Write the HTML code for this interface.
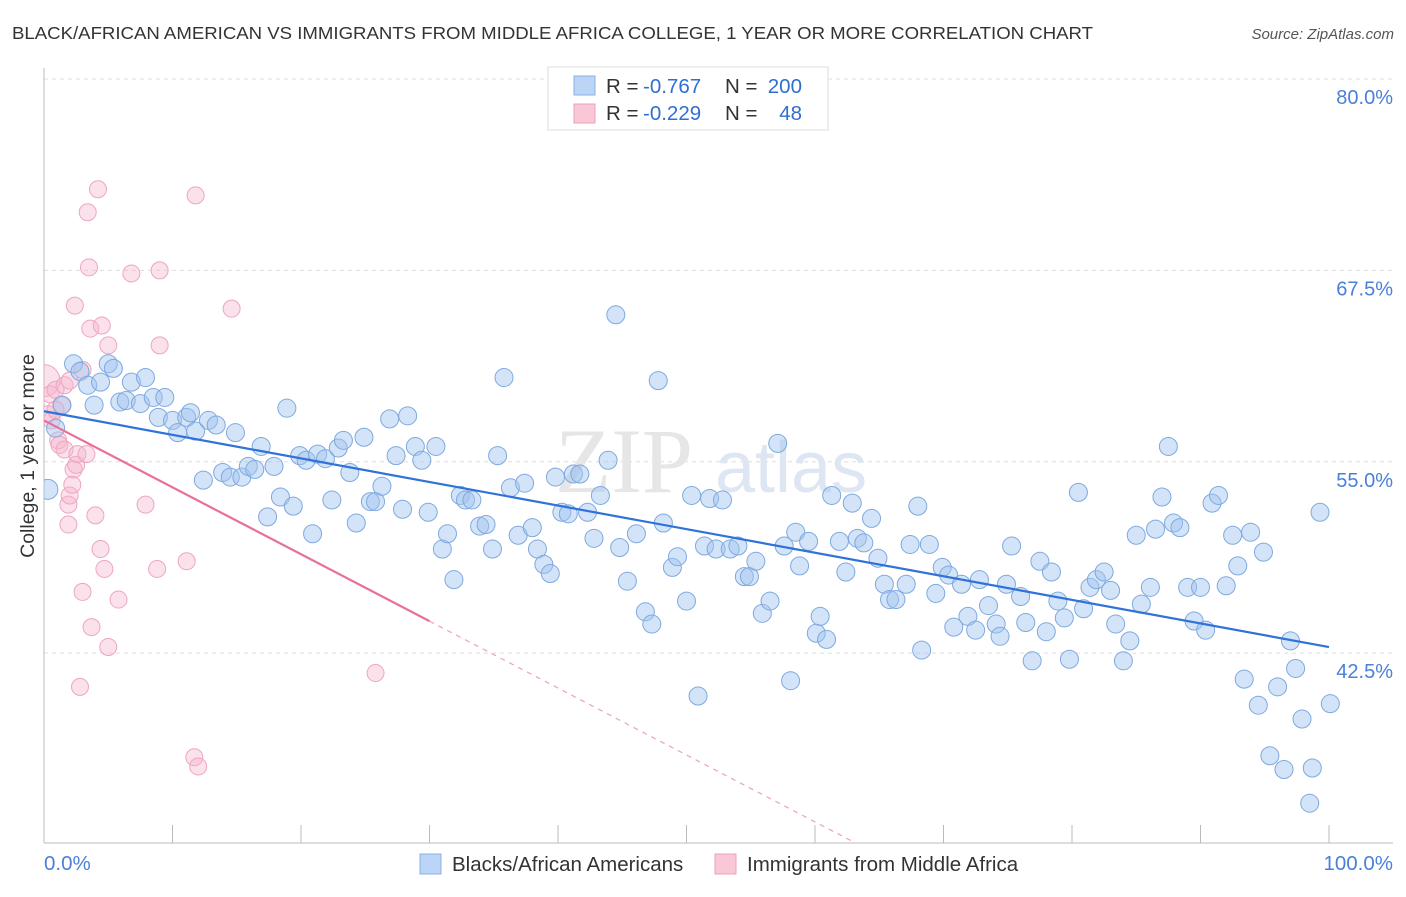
<!DOCTYPE html>
<html><head><meta charset="utf-8"><style>
body{margin:0;background:#fff;width:1406px;height:892px;overflow:hidden;font-family:"Liberation Sans",sans-serif}
</style></head><body>
<svg id="chart" width="1406" height="892" xmlns="http://www.w3.org/2000/svg" style="font-family:'Liberation Sans',sans-serif">
<defs><clipPath id="plotclip"><rect x="44" y="60" width="1360" height="783"/></clipPath></defs>
<text x="12" y="39" font-size="17.5" fill="#333" textLength="1081" lengthAdjust="spacingAndGlyphs">BLACK/AFRICAN AMERICAN VS IMMIGRANTS FROM MIDDLE AFRICA COLLEGE, 1 YEAR OR MORE CORRELATION CHART</text>
<text x="1394" y="39" font-size="15" fill="#555" font-style="italic" text-anchor="end">Source: ZipAtlas.com</text>
<g id="grid"></g>
<text x="555" y="492" font-size="92" fill="#e6e6e6" font-family="Liberation Serif,serif">ZIP</text>
<text x="715" y="492" font-size="72" fill="#dde6f2">atlas</text>
<g id="pts" clip-path="url(#plotclip)"></g>
<g id="lines"></g>
<g>
<rect x="548" y="67" width="280" height="63" fill="#fff" stroke="#ddd"/>
<rect x="574" y="76" width="21" height="19" fill="#bcd4f5" stroke="#8ab2e6"/>
<rect x="574" y="104" width="21" height="19" fill="#f9c7d6" stroke="#eca0bb"/>
<text x="606" y="93" font-size="20.5" fill="#333">R =</text>
<text x="643" y="93" font-size="20.5" fill="#2f6fd0">-0.767</text>
<text x="725" y="93" font-size="20.5" fill="#333">N =</text>
<text x="802" y="93" font-size="20.5" fill="#2f6fd0" text-anchor="end">200</text>
<text x="606" y="120" font-size="20.5" fill="#333">R =</text>
<text x="643" y="120" font-size="20.5" fill="#2f6fd0">-0.229</text>
<text x="725" y="120" font-size="20.5" fill="#333">N =</text>
<text x="802" y="120" font-size="20.5" fill="#2f6fd0" text-anchor="end">48</text>
</g>
<text transform="translate(34,456) rotate(-90)" font-size="19.5" fill="#333" text-anchor="middle">College, 1 year or more</text>
<text x="44" y="870" font-size="20.5" fill="#4a80d8">0.0%</text>
<text x="1393" y="870" font-size="20.5" fill="#4a80d8" text-anchor="end">100.0%</text>
<g>
<rect x="420" y="854" width="21" height="20" fill="#bcd4f5" stroke="#8ab2e6"/>
<text x="452" y="871" font-size="20.5" fill="#333">Blacks/African Americans</text>
<rect x="715" y="854" width="21" height="20" fill="#f9c7d6" stroke="#eca0bb"/>
<text x="747" y="871" font-size="20.5" fill="#333">Immigrants from Middle Africa</text>
</g>
</svg>
<script>
const yTicks=[80,67.5,55,42.5];
const blueX=[0.3,0.9,1.4,2.3,2.8,3.4,3.9,4.4,5.0,5.4,5.9,6.4,6.8,7.5,7.9,8.5,8.9,9.4,10.0,10.4,11.1,11.4,11.8,12.4,12.8,13.4,13.9,14.5,14.9,15.4,15.9,16.4,16.9,17.4,17.9,18.4,18.9,19.4,19.9,20.4,20.9,21.3,21.9,22.4,22.9,23.3,23.8,24.3,24.9,25.4,25.8,26.3,26.9,27.4,27.9,28.3,28.9,29.4,29.9,30.5,31.0,31.4,31.9,32.4,32.8,33.3,33.9,34.4,34.9,35.3,35.8,36.3,36.9,37.4,38.0,38.4,38.9,39.4,39.8,40.3,40.8,41.2,41.7,42.3,42.8,43.3,43.9,44.5,44.8,45.4,46.1,46.8,47.3,47.8,48.2,48.9,49.3,50.0,50.4,50.9,51.4,51.8,52.3,52.8,53.4,54.0,54.5,54.9,55.4,55.9,56.5,57.1,57.6,58.1,58.5,58.8,59.5,60.1,60.4,60.9,61.3,61.9,62.4,62.9,63.3,63.8,64.4,64.9,65.4,65.8,66.3,67.1,67.4,68.0,68.3,68.9,69.4,69.9,70.4,70.8,71.4,71.9,72.5,72.8,73.5,74.1,74.4,74.9,75.3,76.0,76.4,76.9,77.5,78.0,78.4,78.9,79.4,79.8,80.5,80.9,81.4,81.9,82.5,83.0,83.4,84.0,84.5,85.0,85.4,86.1,86.5,87.0,87.5,87.9,88.4,89.0,89.5,90.0,90.4,90.9,91.4,92.0,92.5,92.9,93.4,93.9,94.5,94.9,95.4,96.0,96.5,97.0,97.4,97.9,98.7,98.5,99.3,100.1];
const blueY=[53.2,57.2,58.7,61.4,60.9,60.0,58.7,60.2,61.4,61.1,58.9,59.0,60.2,58.8,60.5,59.2,57.9,59.2,57.7,56.9,57.9,58.2,57.0,53.8,57.7,57.4,54.3,54.0,56.9,54.0,54.7,54.5,56.0,51.4,54.7,52.7,58.5,52.1,55.4,55.1,50.3,55.5,55.2,52.5,55.9,56.4,54.3,51.0,56.6,52.4,52.4,53.4,57.8,55.4,51.9,58.0,56.0,55.1,51.7,56.0,49.3,50.3,47.3,52.8,52.5,52.5,50.8,50.9,49.3,55.4,60.5,53.3,50.2,53.6,50.7,49.3,48.3,47.7,54.0,51.7,51.6,54.2,54.2,51.7,50.0,52.8,55.1,64.6,49.4,47.2,50.3,45.2,44.4,60.3,51.0,48.1,48.8,45.9,52.8,39.7,49.5,52.6,49.3,52.5,49.3,49.5,47.5,47.5,48.5,45.1,45.9,56.2,49.5,40.7,50.4,48.2,49.8,43.8,44.9,43.4,52.8,49.8,47.8,52.3,50.0,49.7,51.3,48.7,47.0,46.0,46.0,47.0,49.6,52.1,42.7,49.6,46.4,48.1,47.6,44.2,47.0,44.9,44.0,47.3,45.6,44.4,43.6,47.0,49.5,46.2,44.5,42.0,48.5,43.9,47.8,45.9,44.8,42.1,53.0,45.4,46.8,47.3,47.8,46.6,44.4,42.0,43.3,50.2,45.7,46.8,50.6,52.7,56.0,51.0,50.7,46.8,44.6,46.8,44.0,52.3,52.8,46.9,50.2,48.2,40.8,50.4,39.1,49.1,35.8,40.3,34.9,43.3,41.5,38.2,35.0,32.7,51.7,39.2];
const pinkX=[0,0.5,0.3,0.6,1.1,1.2,0.9,1.6,2.0,1.4,0.9,1.6,1.9,2.0,2.2,2.3,2.5,2.6,3.0,3.3,3.4,3.5,3.6,4.0,4.2,4.4,4.7,5.0,3.0,3.7,5.0,5.8,2.8,2.4,4.5,6.8,7.9,8.8,9.0,9.0,11.1,11.8,14.6,11.7,12.0,25.8,1.9];
const pinkY=[60.3,59.4,58.1,57.7,56.4,56.1,59.7,60.0,60.3,58.7,58.4,55.8,52.2,52.8,53.5,54.5,54.8,55.5,61.0,55.5,71.3,67.7,63.7,51.5,72.8,49.3,48.0,62.6,46.5,44.2,42.9,46.0,40.3,65.2,63.9,67.3,52.2,48.0,67.5,62.6,48.5,72.4,65.0,35.7,35.1,41.2,50.9];
const blueFit=[58.3,42.9];   // y at x=0, x=100
const pinkFit=[57.7,-0.437]; // intercept, slope
const pinkSolidEnd=[30];
const NS='http://www.w3.org/2000/svg';
const X0=44,X1=1329,YT=79,YB=843,YMIN=30.1,YMAX=80;
const sx=v=>X0+(X1-X0)*v/100;
const sy=v=>YT+(YMAX-v)*(YB-YT)/(YMAX-YMIN);
function mk(t,a,p){const e=document.createElementNS(NS,t);for(const k in a)e.setAttribute(k,a[k]);p.appendChild(e);return e;}
const grid=document.getElementById('grid');
yTicks.forEach(v=>{
  const l=mk('line',{x1:44,x2:1393,y1:sy(v),y2:sy(v),stroke:'#ddd','stroke-dasharray':'4,4'},grid);
  
  
  const t=mk('text',{x:1393,y:sy(v)+25,'font-size':20,fill:'#4a80d8','text-anchor':'end'},grid);
  t.textContent=v.toFixed(1)+'%';
  
  
});
const ax=mk('line',{x1:44,x2:44,y1:68,y2:843,stroke:'#bbb'},grid);


const bx=mk('line',{x1:44,x2:1393,y1:843,y2:843,stroke:'#bbb'},grid);


for(let i=0;i<=10;i++){
  const tk=mk('line',{x1:sx(i*10),x2:sx(i*10),y1:825,y2:843,stroke:'#bbb'},grid);
  
  
}
const pts=document.getElementById('pts');
pinkX.forEach((x,i)=>{
  const c=mk('circle',{cx:sx(x),cy:sy(pinkY[i]),r:i===0?16:8.5,fill:'rgba(246,180,204,0.4)',stroke:'#eea6c0','stroke-width':1},pts);
  
  
});
blueX.forEach((x,i)=>{
  const c=mk('circle',{cx:sx(x),cy:sy(blueY[i]),r:i===0?10:9,fill:'rgba(160,196,240,0.45)',stroke:'#7ea9df','stroke-width':1},pts);
  
  
});
const lines=document.getElementById('lines');
const bl=mk('line',{x1:sx(0),y1:sy(blueFit[0]),x2:sx(100),y2:sy(blueFit[1]),stroke:'#2f72d8','stroke-width':2.2},lines);


const pf=x=>pinkFit[0]+pinkFit[1]*x;
const xEnd=(YMIN-pinkFit[0])/pinkFit[1];
const pl=mk('line',{x1:sx(0),y1:sy(pf(0)),x2:sx(pinkSolidEnd[0]),y2:sy(pf(pinkSolidEnd[0])),stroke:'#e8709a','stroke-width':2.2},lines);


const pd=mk('line',{x1:sx(pinkSolidEnd[0]),y1:sy(pf(pinkSolidEnd[0])),x2:sx(xEnd),y2:sy(pf(xEnd)),stroke:'#eea0bb','stroke-width':1.2,'stroke-dasharray':'5,5'},lines);


</script>
</body></html>
